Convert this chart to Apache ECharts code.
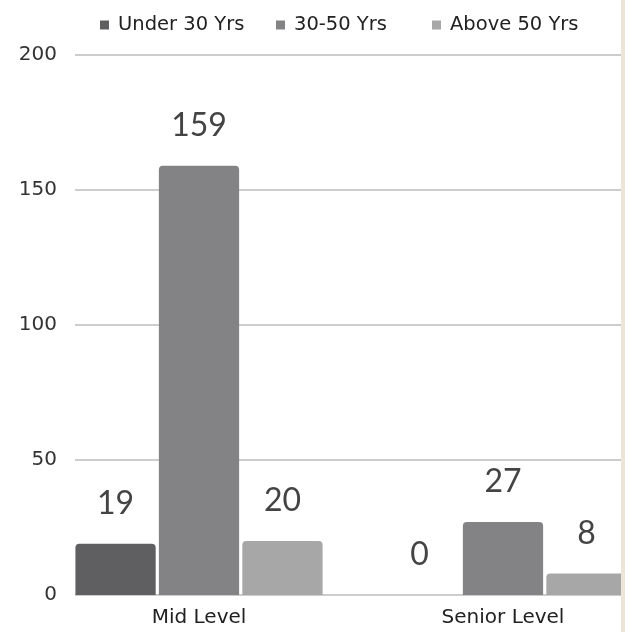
<!DOCTYPE html>
<html>
<head>
<meta charset="utf-8">
<script src="https://cdn.jsdelivr.net/npm/echarts@6/dist/echarts.min.js"></script>
<style>
  html, body { margin: 0; padding: 0; width: 625px; height: 632px; overflow: hidden; background: #fff; }
  #chart { width: 700px; height: 632px; }
</style>
</head>
<body>
<div id="chart"></div>
<script>
// Headcount by level and age band
const categories = ['Mid Level', 'Senior Level'];
const seriesNames = ['Under 30 Yrs', '30-50 Yrs', 'Above 50 Yrs'];
const under30 = [19, 0];
const age30to50 = [159, 27];
const above50 = [20, 8];
const yTicks = [0, 50, 100, 150, 200];

const colors = ['#5f5f61', '#838284', '#a7a7a7'];
const valueFont = 'Lato, "Noto Sans", sans-serif';
const axisFont = '"DejaVu Sans", sans-serif';

function barSeries(name, data, color) {
  return {
    name: name,
    type: 'bar',
    xAxisIndex: 1,
    yAxisIndex: 1,
    data: data,
    barGap: '4%',
    barCategoryGap: '18.7%',
    itemStyle: { color: color, borderRadius: [4, 4, 0, 0] },
    label: {
      show: true,
      position: 'top',
      distance: 24,
      fontFamily: valueFont,
      fontSize: 32,
      color: '#444'
    }
  };
}

// one legend block per series so each entry sits at its own spot
const legendLefts = [100, 276, 432];
const legends = seriesNames.map((name, i) => ({
  top: 15,
  left: legendLefts[i],
  padding: 0,
  itemWidth: 9,
  itemHeight: 9,
  icon: 'rect',
  textStyle: { fontFamily: axisFont, fontSize: 19.5, color: '#222', padding: [0, 0, 0, 4] },
  data: [name]
}));

const chart = echarts.init(document.getElementById('chart'), null, { renderer: 'canvas' });
chart.setOption({
  animation: false,
  backgroundColor: '#fff',
  color: colors,
  legend: legends,
  grid: [
    { left: 75, top: 55, bottom: 37, width: 546 },
    { left: 47, top: 55, bottom: 37, width: 608 }
  ],
  xAxis: [
    { gridIndex: 0, type: 'value', show: false, min: 0, max: 1 },
    {
      gridIndex: 1,
      type: 'category',
      data: categories,
      axisLine: { show: false },
      axisTick: { show: false },
      axisLabel: { margin: 13, fontFamily: axisFont, fontSize: 20, color: '#222' }
    }
  ],
  yAxis: [
    {
      gridIndex: 0,
      type: 'value',
      min: yTicks[0],
      max: yTicks[yTicks.length - 1],
      interval: yTicks[1] - yTicks[0],
      axisLine: { show: false },
      axisTick: { show: false },
      axisLabel: { margin: 18, fontFamily: axisFont, fontSize: 20, color: '#333' },
      splitLine: { lineStyle: { color: '#bdbdbd', width: 1.5 } }
    },
    {
      gridIndex: 1,
      type: 'value',
      min: yTicks[0],
      max: yTicks[yTicks.length - 1],
      show: false
    }
  ],
  series: [
    barSeries(seriesNames[0], under30, colors[0]),
    barSeries(seriesNames[1], age30to50, colors[1]),
    barSeries(seriesNames[2], above50, colors[2])
  ],
  graphic: [
    {
      type: 'rect',
      left: 621,
      top: 0,
      shape: { width: 4, height: 632 },
      style: { fill: '#eee5d9' },
      z: 100
    }
  ]
});
</script>
</body>
</html>
